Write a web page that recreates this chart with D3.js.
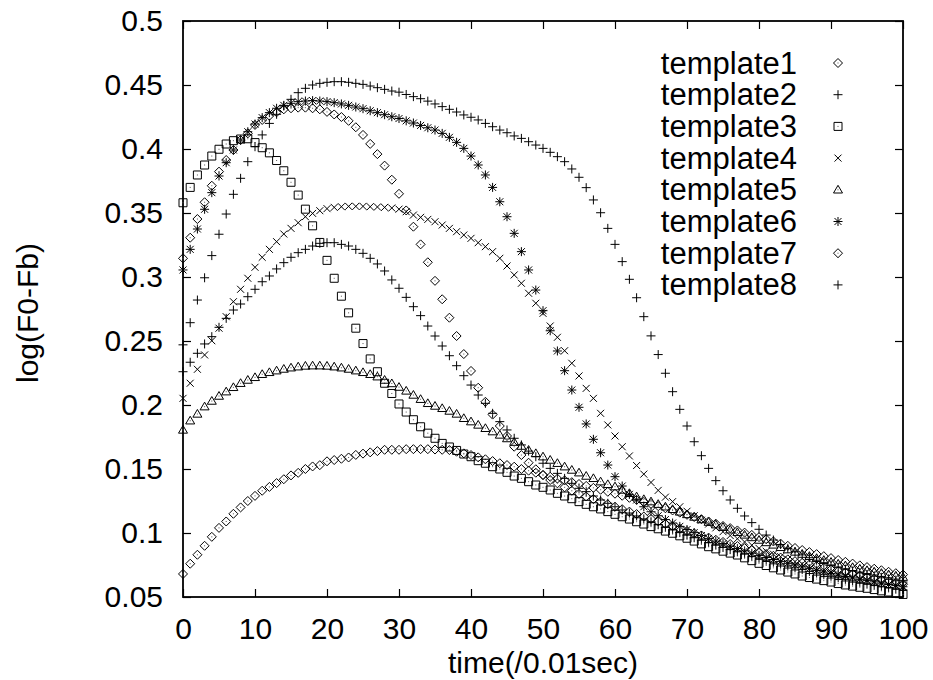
<!DOCTYPE html>
<html>
<head>
<meta charset="utf-8">
<script src="https://cdn.jsdelivr.net/npm/d3@7"></script>
<style>
  body { margin: 0; background: #fff; }
  svg text { font-family: "Liberation Sans", Arial, Helvetica, sans-serif; fill: #000; }
</style>
</head>
<body>
<div class="container"></div>
<script>
// series values, one per 0.01 sec step (0..100)
const template1 = [0.068,0.076,0.083,0.090,0.097,0.104,0.109,0.115,0.120,0.125,0.129,0.133,0.136,0.139,0.142,0.145,0.147,0.150,0.152,0.153,0.156,0.157,0.158,0.159,0.161,0.162,0.163,0.164,0.165,0.165,0.165,0.1655,0.1655,0.1655,0.1655,0.1652,0.165,0.1648,0.1635,0.1622,0.1609,0.1591,0.1576,0.1562,0.1545,0.1531,0.1518,0.150,0.1487,0.1471,0.1453,0.1439,0.1425,0.1411,0.1397,0.1383,0.1368,0.1353,0.1338,0.1322,0.1307,0.1291,0.1275,0.1259,0.1243,0.1227,0.121,0.1193,0.1176,0.1159,0.1142,0.1125,0.1108,0.109,0.1073,0.1055,0.1038,0.102,0.1003,0.0985,0.0968,0.0951,0.0934,0.0917,0.090,0.0883,0.0867,0.0851,0.0835,0.0819,0.0804,0.0789,0.0775,0.0761,0.0747,0.0734,0.0721,0.0709,0.0697,0.0686,0.0675];
const template2 = [0.226,0.2334,0.2404,0.2477,0.2534,0.2607,0.2677,0.2742,0.2789,0.2846,0.2904,0.2963,0.3008,0.3063,0.3112,0.3154,0.319,0.3216,0.3242,0.3263,0.3268,0.3268,0.3255,0.3242,0.3216,0.3185,0.3146,0.3102,0.3047,0.2977,0.2912,0.2841,0.2768,0.2698,0.2617,0.2539,0.2461,0.2385,0.2307,0.2229,0.2156,0.2078,0.2013,0.1935,0.187,0.1805,0.174,0.1688,0.164,0.1596,0.1545,0.1505,0.1466,0.1427,0.1388,0.1349,0.1323,0.1289,0.1258,0.1232,0.1205,0.118,0.1156,0.1133,0.111,0.1088,0.1066,0.1045,0.1024,0.1003,0.0983,0.0963,0.0944,0.0925,0.0906,0.0888,0.087,0.0853,0.0836,0.0819,0.0803,0.0787,0.0772,0.0757,0.0742,0.0728,0.0714,0.070,0.0687,0.0674,0.0662,0.065,0.0638,0.0626,0.0615,0.0604,0.0594,0.0584,0.0574,0.0564,0.0555];
const template3 = [0.358,0.370,0.3797,0.3875,0.3945,0.3998,0.4039,0.4065,0.4078,0.408,0.405,0.401,0.397,0.391,0.383,0.374,0.364,0.353,0.340,0.327,0.313,0.299,0.285,0.272,0.260,0.248,0.236,0.226,0.217,0.209,0.2008,0.1945,0.1885,0.183,0.178,0.174,0.170,0.1672,0.1645,0.1617,0.1596,0.1565,0.1545,0.1518,0.150,0.1474,0.1445,0.1427,0.1401,0.1375,0.1357,0.1336,0.131,0.1289,0.1268,0.1245,0.1224,0.1205,0.1188,0.1167,0.1146,0.1127,0.1109,0.1088,0.107,0.105,0.1033,0.1015,0.0998,0.0978,0.0959,0.0937,0.0915,0.0893,0.0876,0.0858,0.0843,0.0828,0.0806,0.0784,0.0763,0.0746,0.0728,0.0711,0.0695,0.068,0.0664,0.0652,0.064,0.0628,0.0617,0.0605,0.0594,0.0585,0.0576,0.0568,0.0558,0.0548,0.0539,0.0529,0.052];
const template4 = [0.2052,0.217,0.2279,0.2391,0.2502,0.260,0.269,0.2807,0.2904,0.299,0.3076,0.3154,0.3216,0.3276,0.3336,0.338,0.3424,0.3471,0.3497,0.3518,0.3534,0.3544,0.3549,0.3552,0.3552,0.3552,0.3549,0.3547,0.3544,0.3539,0.353,0.351,0.3484,0.3466,0.345,0.3432,0.3406,0.338,0.3354,0.3328,0.3302,0.3268,0.3237,0.3198,0.3146,0.3086,0.3016,0.2951,0.2873,0.2795,0.2716,0.2617,0.2529,0.2424,0.2326,0.2227,0.213,0.2052,0.1935,0.1844,0.1758,0.1674,0.1602,0.1527,0.146,0.1395,0.1333,0.128,0.1245,0.1205,0.117,0.1135,0.110,0.107,0.104,0.101,0.098,0.0955,0.093,0.0905,0.088,0.0857,0.0835,0.0815,0.0795,0.0776,0.0758,0.0741,0.0725,0.071,0.0695,0.0681,0.0668,0.0655,0.0643,0.0631,0.062,0.0609,0.0598,0.0589,0.058];
const template5 = [0.1805,0.1877,0.193,0.1987,0.2031,0.207,0.2104,0.2138,0.217,0.2195,0.2216,0.224,0.2255,0.2268,0.2281,0.2291,0.2299,0.2305,0.2307,0.2307,0.2305,0.2299,0.2291,0.2281,0.2268,0.2255,0.224,0.2221,0.2195,0.2168,0.214,0.211,0.2078,0.2045,0.2013,0.1992,0.1974,0.1953,0.193,0.1896,0.187,0.1844,0.1818,0.1792,0.1766,0.1738,0.171,0.1679,0.1648,0.1622,0.1596,0.157,0.1545,0.1518,0.1492,0.1471,0.1445,0.1427,0.1401,0.138,0.1362,0.1336,0.131,0.1284,0.1263,0.1245,0.1225,0.1205,0.1185,0.1165,0.1145,0.1125,0.1105,0.1085,0.1065,0.1045,0.1025,0.1005,0.0985,0.0965,0.0945,0.0926,0.0907,0.0888,0.087,0.0852,0.0835,0.0818,0.0802,0.0787,0.0772,0.0758,0.0745,0.0732,0.072,0.0708,0.0697,0.0686,0.0675,0.0665,0.0655];
const template6 = [0.3055,0.3216,0.3375,0.3529,0.3659,0.3789,0.3893,0.3992,0.407,0.4135,0.4195,0.4245,0.4284,0.4318,0.4341,0.4357,0.437,0.4375,0.4378,0.4375,0.437,0.4362,0.4352,0.4341,0.4328,0.4315,0.4299,0.4284,0.4268,0.4252,0.4238,0.422,0.4203,0.4184,0.4166,0.4148,0.4122,0.4091,0.4052,0.4005,0.3945,0.3875,0.3797,0.370,0.3588,0.3471,0.3341,0.3198,0.3055,0.2898,0.2737,0.258,0.2422,0.2268,0.2117,0.1982,0.1852,0.1732,0.1627,0.1531,0.144,0.1367,0.1302,0.1258,0.1205,0.1166,0.1135,0.1105,0.1078,0.1052,0.1027,0.1003,0.098,0.0958,0.0937,0.0917,0.0897,0.0878,0.086,0.0842,0.0825,0.0809,0.0793,0.0778,0.0763,0.0749,0.0735,0.0721,0.0708,0.0695,0.0683,0.0671,0.066,0.0649,0.0638,0.0628,0.0618,0.0608,0.0598,0.0589,0.058];
const template7 = [0.3146,0.3307,0.3453,0.3584,0.3713,0.3823,0.3914,0.3992,0.407,0.4122,0.4188,0.4227,0.426,0.4287,0.431,0.4318,0.4323,0.4323,0.4318,0.431,0.429,0.427,0.425,0.422,0.417,0.411,0.404,0.396,0.387,0.376,0.365,0.352,0.3393,0.3255,0.3115,0.297,0.2826,0.2682,0.2539,0.2398,0.2266,0.2135,0.2025,0.1925,0.1836,0.1758,0.1674,0.1609,0.1549,0.1498,0.1453,0.1414,0.1388,0.1357,0.133,0.1305,0.1285,0.1265,0.1245,0.1225,0.1205,0.1186,0.1167,0.1148,0.1129,0.111,0.1091,0.1072,0.1053,0.1034,0.1015,0.0998,0.0981,0.0964,0.0947,0.093,0.0914,0.0898,0.0882,0.0866,0.085,0.0836,0.0822,0.0808,0.0794,0.078,0.0767,0.0754,0.0741,0.0728,0.0715,0.0703,0.0691,0.0679,0.0667,0.0655,0.0644,0.0633,0.0622,0.0611,0.060];
const template8 = [0.247,0.2643,0.282,0.2994,0.3167,0.3334,0.3492,0.3646,0.3771,0.3901,0.4018,0.411,0.420,0.4271,0.4336,0.4388,0.444,0.4474,0.450,0.4513,0.4521,0.4526,0.4526,0.4521,0.4513,0.4505,0.4492,0.4479,0.4466,0.4453,0.4444,0.4426,0.4409,0.4393,0.4374,0.4352,0.4331,0.431,0.4289,0.4266,0.4248,0.4227,0.420,0.4174,0.4148,0.4127,0.4102,0.4083,0.4057,0.4031,0.4005,0.3974,0.394,0.3901,0.3844,0.3779,0.3698,0.3602,0.3502,0.338,0.3255,0.312,0.2982,0.2838,0.269,0.254,0.2394,0.2248,0.2104,0.1966,0.1836,0.1713,0.1604,0.1505,0.1409,0.133,0.1258,0.1193,0.1133,0.1081,0.1029,0.0984,0.0945,0.091,0.088,0.0853,0.0829,0.0807,0.0787,0.0768,0.075,0.0733,0.0717,0.0702,0.0688,0.0675,0.0662,0.065,0.0638,0.0627,0.0617];

const seriesNames = ["template1","template2","template3","template4","template5","template6","template7","template8"];
const seriesValues = [template1, template2, template3, template4, template5, template6, template7, template8];
const xTicks = [0,10,20,30,40,50,60,70,80,90,100];
const yTicks = [0.05,0.1,0.15,0.2,0.25,0.3,0.35,0.4,0.45,0.5];

// gnuplot style point shapes, in legend order
const markerPaths = {
    diamond: "M0,-4.5L4.5,0L0,4.5L-4.5,0Z",
    plus: "M-4.5,0H4.5M0,-4.5V4.5",
    square: "M-4,-4H4V4H-4Z",
    cross: "M-3.5,-3.5L3.5,3.5M-3.5,3.5L3.5,-3.5",
    triangle: "M0,-4.5L4.5,3.2L-4.5,3.2Z",
    star: "M-4.5,0H4.5M0,-4.5V4.5M-3.5,-3.5L3.5,3.5M-3.5,3.5L3.5,-3.5"
};
const shapes = ["diamond","plus","square","cross","triangle","star","diamond","plus"];
const dotted = {diamond:true, square:true, triangle:true};

const width = 933, height = 680;
const plot = {left:183, right:903, top:21, bottom:597};
const fontSize = "30px";

const svg = d3.select("div.container").append("svg")
    .attr("width", width)
    .attr("height", height)
    .style("display","block");

svg.append("rect").attr("width",width).attr("height",height).attr("fill","#fff");

const x = d3.scaleLinear().domain([0,100]).range([plot.left, plot.right]);
const y = d3.scaleLinear().domain([0.05,0.5]).range([plot.bottom, plot.top]);

//axes with inward ticks, mirrored on top and right
const axisStyle = g => {
    g.select(".domain").remove();
    g.selectAll(".tick line").attr("stroke","#000").attr("stroke-width",1.2);
    g.selectAll(".tick text").style("font-size",fontSize).attr("fill","#000");
};

svg.append("g")
    .attr("transform",`translate(0,${plot.bottom})`)
    .call(d3.axisBottom(x).tickValues(xTicks).tickSize(-8).tickPadding(21).tickFormat(d => String(d)))
    .call(axisStyle);

svg.append("g")
    .attr("transform",`translate(${plot.left},0)`)
    .call(d3.axisLeft(y).tickValues(yTicks).tickSize(-8).tickPadding(20).tickFormat(d => String(+d.toFixed(2))))
    .call(axisStyle);

svg.append("g")
    .attr("transform",`translate(0,${plot.top})`)
    .call(d3.axisTop(x).tickValues(xTicks).tickSize(-8).tickFormat(""))
    .call(axisStyle);

svg.append("g")
    .attr("transform",`translate(${plot.right},0)`)
    .call(d3.axisRight(y).tickValues(yTicks).tickSize(-8).tickFormat(""))
    .call(axisStyle);

svg.append("rect")
    .attr("x",plot.left).attr("y",plot.top)
    .attr("width",plot.right-plot.left).attr("height",plot.bottom-plot.top)
    .attr("fill","none").attr("stroke","#000").attr("stroke-width",1.8);

//axis titles
svg.append("text")
    .attr("x",(plot.left+plot.right)/2)
    .attr("y",673)
    .attr("text-anchor","middle")
    .style("font-size",fontSize)
    .text("time(/0.01sec)");

svg.append("text")
    .attr("transform",`translate(38,${(plot.top+plot.bottom)/2 + 4}) rotate(-90)`)
    .attr("text-anchor","middle")
    .style("font-size",fontSize)
    .text("log(F0-Fb)");

//points
const drawMarker = (sel, shape) => {
    sel.append("path")
        .attr("d", markerPaths[shape])
        .attr("fill","none")
        .attr("stroke","#000")
        .attr("stroke-width",1);
    if (dotted[shape]) {
        sel.append("rect")
            .attr("x",-0.5).attr("y",-0.5)
            .attr("width",1).attr("height",1)
            .attr("fill","#555");
    }
};

const pointsLayer = svg.append("g").attr("class","points");
seriesValues.forEach((values, k) => {
    pointsLayer.append("g")
        .selectAll("g")
        .data(values)
        .join("g")
        .attr("transform",(d,i) => `translate(${x(i)},${y(d)})`)
        .each(function() { drawMarker(d3.select(this), shapes[k]); });
});

//legend
const legend = svg.append("g").attr("id","legend");
const legendRow = 31.7;
seriesNames.forEach((name, k) => {
    const cy = 63 + k*legendRow;
    legend.append("text")
        .attr("x",797)
        .attr("y",cy)
        .attr("dy","0.34em")
        .attr("text-anchor","end")
        .style("font-size","31px")
        .text(name);
    const m = legend.append("g").attr("transform",`translate(838,${cy})`);
    drawMarker(m, shapes[k]);
});
</script>
</body>
</html>
